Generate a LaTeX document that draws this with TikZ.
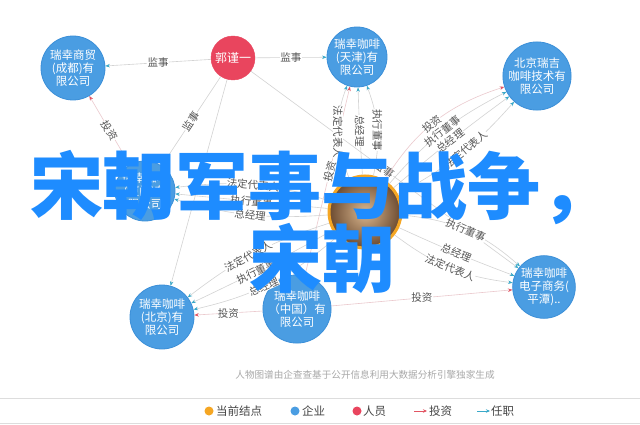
\documentclass[tikz,border=0pt]{standalone}
\usepackage{fontspec}
\setmainfont{Noto Sans CJK SC}
\usetikzlibrary{arrows.meta}
\definecolor{cBlue}{HTML}{4A9DE2}
\definecolor{cBlueB}{HTML}{3B8FD8}
\definecolor{cRed}{HTML}{E9455E}
\definecolor{cOrange}{HTML}{F5A623}
\definecolor{cBig}{HTML}{1E8CFF}
\definecolor{cLbl}{HTML}{555555}
\definecolor{cLine}{HTML}{D3D3D3}
\definecolor{cLineR}{HTML}{EBC9CD}
\definecolor{cTeal}{HTML}{3AA9C9}
\definecolor{cArrR}{HTML}{E25563}
\definecolor{cFoot}{HTML}{A8A8A8}
\definecolor{cSep}{HTML}{DDDDDD}
\definecolor{cLeg}{HTML}{444444}
\definecolor{cPhotoIn}{HTML}{DAB78F}
\definecolor{cPhotoOut}{HTML}{6B4A30}
\begin{document}
\begin{tikzpicture}[x=1pt,y=1pt,
  co/.style={circle, fill=cBlue, draw=cBlueB, line width=0.8pt, text=white, align=center, inner sep=0pt, font=\fontsize{11.5}{13}\selectfont},
  person/.style={circle, fill=cRed, draw=cRed, text=white, inner sep=0pt, font=\fontsize{12}{13}\selectfont},
  lbl/.style={font=\fontsize{10.5}{10.5}\selectfont, text=cLbl, fill=white, inner sep=0.3pt},
  role/.style={draw=cLine, line width=0.6pt, -{Stealth[length=4.5pt,width=3.5pt,color=cTeal]}},
  inv/.style={draw=cLineR, line width=0.6pt, -{Stealth[length=4.5pt,width=3.5pt,color=cArrR]}},
  big/.style={font=\fontsize{73}{73}\selectfont\bfseries, text=cBig, inner sep=0pt, anchor=base},
  lg/.style={font=\fontsize{11.5}{12}\selectfont, text=cLeg, inner sep=0pt, anchor=west},
  dot/.style={circle, inner sep=0pt, minimum size=9pt}]
\fill[white] (0,0) rectangle (640,424);
\useasboundingbox (0,0) rectangle (640,424);

% nodes
\node[co, minimum size=64pt] (A) at (73,356) {瑞幸商贸\\(成都)有\\限公司};
\node[person, minimum size=44pt] (P) at (233,366) {郭谨一};
\node[co, minimum size=60pt] (B) at (357,367) {瑞幸咖啡\\(天津)有\\限公司};
\node[co, minimum size=62pt] (C) at (537,348) {北京瑞吉\\咖啡技术有\\限公司};
\node[co, minimum size=60pt] (D) at (145,233) {瑞幸咖啡\\(厦门)有\\限公司};
\node[circle, draw=cOrange, line width=3pt, inner color=cPhotoIn, outer color=cPhotoOut, minimum size=72pt] (E) at (365,212) {};
\node[co, minimum size=64pt] (F) at (162,107) {瑞幸咖啡\\(北京)有\\限公司};
\node[co, minimum size=64pt] (G) at (297,115) {瑞幸咖啡\\（中国）有\\限公司};
\node[co, minimum size=62pt] (H) at (544,137) {瑞幸咖啡\\电子商务(\\平潭)..};

% person P
\draw[role] (P) -- node[lbl]{监事} (A);
\draw[role] (P) -- node[lbl]{监事} (B);
\draw[role] (P) -- node[lbl,sloped]{监事} (D);
\draw[role] (P) -- (F);
\draw[role] (P) -- node[lbl,sloped]{监事} (H);

% investments
\draw[inv] (D) -- node[lbl,sloped]{投资} (A);
\draw[inv] (G) -- node[lbl,sloped,pos=0.55]{投资} (B);
\draw[inv] (G) -- node[lbl]{投资} (F);
\draw[inv] (G) -- node[lbl]{投资} (H);

% E -> B
\draw[role] (E) to[bend left=22] node[lbl,rotate=-90]{法定代表人} (B);
\draw[role] (E) to[bend left=1] node[lbl,rotate=-90]{总经理} (B);
\draw[role] (E) to[bend right=16] node[lbl,rotate=-90]{执行董事} (B);

% E -> C
\draw[inv] (E) to[bend left=20] node[lbl,sloped,pos=0.47]{投资} (C);
\draw[role] (E) to[bend left=11] node[lbl,sloped]{执行董事} (C);
\draw[role] (E) to[bend left=2] node[lbl,sloped]{总经理} (C);
\draw[role] (E) to[bend right=10] node[lbl,sloped,pos=0.55]{法定代表人} (C);

% E -> D
\draw[role] (E) to[bend right=12] node[lbl,sloped]{法定代表人} (D);
\draw[role] (E) -- node[lbl,sloped]{执行董事} (D);
\draw[role] (E) to[bend left=10] node[lbl,sloped]{总经理} (D);

% E -> F
\draw[role] (E) to[bend right=10] node[lbl,sloped,pos=0.55]{法定代表人} (F);
\draw[role] (E) to[bend left=2] node[lbl,sloped,pos=0.55]{执行董事} (F);
\draw[role] (E) to[bend left=14] node[lbl,sloped,pos=0.55]{总经理} (F);

% E -> H
\draw[role] (E) to[bend left=18] node[lbl,sloped]{执行董事} (H);
\draw[role] (E) to[bend right=2] node[lbl,sloped]{总经理} (H);
\draw[role] (E) to[bend right=15] node[lbl,sloped]{法定代表人} (H);

% overlay title
\node[big] (T1) at (322,211) {宋朝军事与战争，};
\node[big] (T2) at (322,138) {宋朝};

% footer
\node[font=\fontsize{9.6}{10}\selectfont, text=cFoot, inner sep=0pt] (ft) at (365,49) {人物图谱由企查查基于公开信息利用大数据分析引擎独家生成};

% legend
\coordinate (s1) at (0,26); \coordinate (s2) at (640,26);
\coordinate (s3) at (0,1); \coordinate (s4) at (640,1);
\draw[cSep, line width=0.7pt] (s1) -- (s2);
\draw[cSep, line width=0.7pt] (s3) -- (s4);
\node[dot, fill=cOrange] (l1) at (209,13) {};
\node[lg] (l1t) at (216,13) {当前结点};
\node[dot, fill=cBlue] (l2) at (295,13) {};
\node[lg] (l2t) at (302,13) {企业};
\node[dot, fill=cRed] (l3) at (357,13) {};
\node[lg] (l3t) at (363,13) {人员};
\coordinate (a1s) at (414,13); \coordinate (a1e) at (427,13);
\draw[cArrR, line width=0.9pt, -{Stealth[length=4pt,width=3.5pt]}] (a1s) -- (a1e);
\node[lg] (l4t) at (429,13) {投资};
\coordinate (a2s) at (477,13); \coordinate (a2e) at (490,13);
\draw[cTeal, line width=0.9pt, -{Stealth[length=4pt,width=3.5pt]}] (a2s) -- (a2e);
\node[lg] (l5t) at (491,13) {任职};
\end{tikzpicture}
\end{document}
